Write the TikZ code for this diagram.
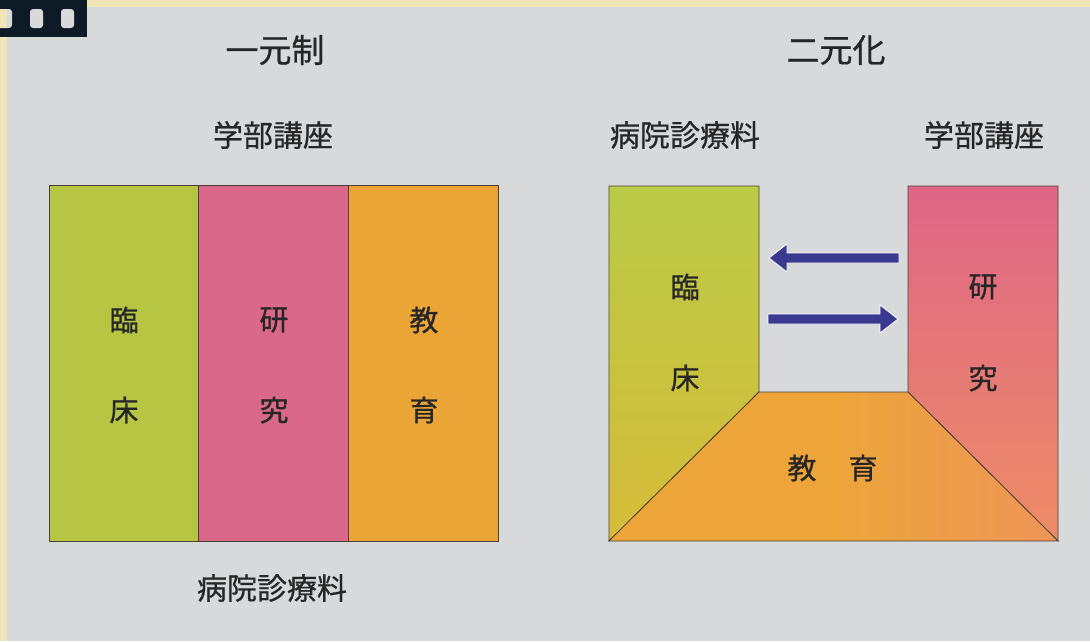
\documentclass[tikz,border=0pt]{standalone}
\usepackage{fontspec}
\newfontfamily\jp[FakeBold=0.7]{Noto Sans CJK JP}
\definecolor{bgc}{HTML}{D7D9DB}
\definecolor{cream}{HTML}{F0E5B6}
\definecolor{winbar}{HTML}{0E1A26}
\definecolor{cgreen}{HTML}{B6C642}
\definecolor{cpink}{HTML}{D9688A}
\definecolor{corange}{HTML}{EBA537}
\definecolor{gtop}{HTML}{BACB47}
\definecolor{gbot}{HTML}{D6BC38}
\definecolor{ptop}{HTML}{DE6688}
\definecolor{pbot}{HTML}{EE8C66}
\definecolor{otop}{HTML}{EDA53A}
\definecolor{oright}{HTML}{EE9558}
\definecolor{arr}{HTML}{3A3990}
\definecolor{edge}{HTML}{4A3F38}
\definecolor{ink}{HTML}{262626}
\tikzset{
  lbl/.style={font=\jp\fontsize{30}{30}\selectfont, text=ink, inner sep=0pt},
  ttl/.style={font=\jp\fontsize{33}{33}\selectfont, text=ink, inner sep=0pt},
  cell/.style={font=\jp\fontsize{29}{29}\selectfont, text=ink, inner sep=0pt},
  colbox/.style={draw=edge, line width=0.8pt, minimum width=150pt, minimum height=356pt, inner sep=0pt},
  region/.style={draw=edge, line width=0.8pt},
  arrowshape/.style={fill=arr, draw=white, line width=0.8pt, line join=miter},
  hole/.style={fill=bgc, rounded corners=3pt}
}
\begin{document}
\begin{tikzpicture}[x=1pt,y=-1pt]
\useasboundingbox (0,0) rectangle (1090,641);
% background and frame
\fill[bgc] (0,0) rectangle (1090,641);
\fill[cream] (0,0) rectangle (1090,7);
\fill[cream] (0,0) rectangle (7,641);
% window bar
\fill[winbar] (0,0) rectangle (87,37);
\fill[hole] (-4,9) rectangle (12,28);
\begin{scope}
\clip[rounded corners=3pt] (-4,9) rectangle (12,28);
\fill[cream] (-4,9) rectangle (7,28);
\end{scope}
\fill[hole] (30,9) rectangle (43,28);
\fill[hole] (61,9) rectangle (74,28);

% ===== left diagram =====
\node[ttl] (t1) at (275,50) {一元制};
\node[lbl] (top1) at (273,135) {学部講座};
\node[colbox, fill=cgreen] (c1) at (124,363) {};
\node[colbox, fill=cpink] (c2) at (273.5,363) {};
\node[colbox, fill=corange] (c3) at (423,363) {};
\node[cell] (c1a) at (124,320) {臨};
\node[cell] (c1b) at (124,410) {床};
\node[cell] (c2a) at (274,320) {研};
\node[cell] (c2b) at (274,410) {究};
\node[cell] (c3a) at (424,320) {教};
\node[cell] (c3b) at (424,410) {育};
\node[lbl] (bot1) at (272,588) {病院診療料};

% ===== right diagram =====
\node[ttl] (t2) at (836,50) {二元化};
\node[lbl] (top2a) at (685,135) {病院診療料};
\node[lbl] (top2b) at (984,135) {学部講座};
% regions
\path[region, top color=gtop, bottom color=gbot] (609,186) -- (759,186) -- (759,392) -- (609,541) -- cycle;
\path[region, top color=ptop, bottom color=pbot] (908,186) -- (1058,186) -- (1058,541) -- (908,392) -- cycle;
\path[region, left color=otop, right color=oright, middle color=otop] (609,541) -- (759,392) -- (908,392) -- (1058,541) -- cycle;
\node[cell] (r1a) at (685,287) {臨};
\node[cell] (r1b) at (685,378) {床};
\node[cell] (r2a) at (983,287) {研};
\node[cell] (r2b) at (983,378) {究};
\node[cell] (r3a) at (802,468) {教};
\node[cell] (r3b) at (863,468) {育};
% arrows
\coordinate (a1s) at (899,258);
\coordinate (a1e) at (769,258);
\coordinate (a2s) at (768,319);
\coordinate (a2e) at (898,319);
\path[arrowshape] (a1s) ++(0,-5) -- ++(-112,0) -- ++(0,-9) -- (a1e) -- ++(18,14) -- ++(0,-9) -- ++(112,0) -- cycle;
\path[arrowshape] (a2s) ++(0,-5) -- ++(112,0) -- ++(0,-9) -- (a2e) -- ++(-18,14) -- ++(0,-9) -- ++(-112,0) -- cycle;
\end{tikzpicture}
\end{document}
